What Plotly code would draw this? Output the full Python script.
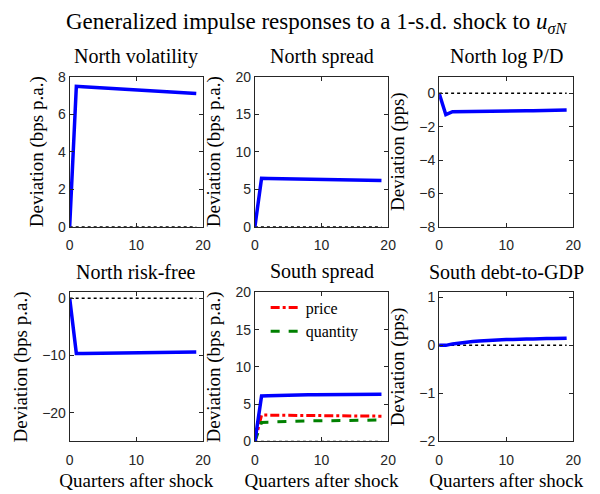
import plotly.graph_objects as go
from plotly.subplots import make_subplots

quarters = list(range(20))

north_vol = [0, 7.49, 7.47, 7.45, 7.43, 7.41, 7.39, 7.37, 7.35, 7.33,
             7.31, 7.29, 7.27, 7.25, 7.23, 7.21, 7.19, 7.16, 7.13, 7.10]
north_spread = [0, 6.45, 6.43, 6.42, 6.40, 6.39, 6.37, 6.36, 6.34, 6.32,
                6.31, 6.29, 6.28, 6.26, 6.24, 6.23, 6.21, 6.19, 6.17, 6.15]
north_pd = [0, -1.28, -1.10, -1.09, -1.09, -1.08, -1.08, -1.07, -1.07, -1.06,
            -1.06, -1.05, -1.05, -1.04, -1.04, -1.03, -1.03, -1.02, -1.01, -1.00]
north_rf = [0, -9.66, -9.64, -9.63, -9.61, -9.60, -9.58, -9.57, -9.55, -9.54,
            -9.52, -9.51, -9.49, -9.48, -9.46, -9.45, -9.43, -9.42, -9.41, -9.40]
south_spread = [0, 6.10, 6.15, 6.19, 6.22, 6.24, 6.26, 6.27, 6.28, 6.29,
                6.30, 6.31, 6.32, 6.32, 6.33, 6.33, 6.34, 6.34, 6.35, 6.35]
south_price = [0, 3.55, 3.54, 3.53, 3.52, 3.51, 3.50, 3.49, 3.48, 3.47,
               3.46, 3.46, 3.45, 3.44, 3.43, 3.43, 3.42, 3.41, 3.41, 3.40]
south_quantity = [0, 2.55, 2.60, 2.64, 2.67, 2.70, 2.72, 2.74, 2.76, 2.77,
                  2.79, 2.80, 2.82, 2.83, 2.84, 2.85, 2.86, 2.87, 2.88, 2.89]
south_debt = [0, 0.00, 0.03, 0.05, 0.07, 0.08, 0.09, 0.10, 0.11, 0.11,
              0.12, 0.12, 0.13, 0.13, 0.13, 0.14, 0.14, 0.14, 0.14, 0.15]
zero_line = [0] * 20

panel_titles = ["North volatility", "North spread", "North log P/D",
                "North risk-free", "South spread", "South debt-to-GDP"]
panel_series = [north_vol, north_spread, north_pd, north_rf, south_spread, south_debt]
y_labels = ["Deviation (bps p.a.)", "Deviation (bps p.a.)", "Deviation (pps)",
            "Deviation (bps p.a.)", "Deviation (bps p.a.)", "Deviation (pps)"]
y_ranges = [[0, 8], [0, 20], [-8, 1], [-25, 1], [0, 20], [-2, 1.1]]
y_ticks = [[0, 2, 4, 6, 8], [0, 5, 10, 15, 20], [-8, -6, -4, -2, 0],
           [-20, -10, 0], [0, 5, 10, 15, 20], [-2, -1, 0, 1]]
x_ticks = [0, 10, 20]

SERIF = "Liberation Serif"
SANS = "Liberation Sans"
AX = "#262626"

fig = make_subplots(rows=2, cols=3)

x_domains = [[0.1117, 0.3383], [0.4267, 0.6533], [0.7400, 0.9683]]
y_domains = [[0.5425, 0.8563], [0.0931, 0.4049]]

for i in range(6):
    r, c = i // 3 + 1, i % 3 + 1
    fig.add_trace(go.Scatter(x=quarters, y=zero_line, mode="lines",
                             line=dict(color="black", width=1.5, dash="dot"),
                             showlegend=False, hoverinfo="skip"), row=r, col=c)
    if i == 4:
        fig.add_trace(go.Scatter(x=quarters, y=south_price, mode="lines", name="price",
                                 line=dict(color="#ff0000", width=3, dash="dashdot")),
                      row=r, col=c)
        fig.add_trace(go.Scatter(x=quarters, y=south_quantity, mode="lines", name="quantity",
                                 line=dict(color="#008000", width=3, dash="dash")),
                      row=r, col=c)
    fig.add_trace(go.Scatter(x=quarters, y=panel_series[i], mode="lines",
                             line=dict(color="#0000ff", width=3.5),
                             showlegend=False), row=r, col=c)

for i in range(6):
    r, c = i // 3, i % 3
    suffix = "" if i == 0 else str(i + 1)
    xa = dict(domain=x_domains[c], range=[0, 20], tickvals=x_ticks,
              ticks="inside", ticklen=4, tickcolor=AX, showline=True, linecolor=AX,
              linewidth=1, mirror="ticks", showgrid=False, zeroline=False,
              ticklabelstandoff=6,
              tickfont=dict(family=SANS, size=14, color=AX))
    if r == 1:
        xa["title"] = dict(text="Quarters after shock", font=dict(family=SERIF, size=19, color="black"),
                           standoff=6)
    ya = dict(domain=y_domains[r], range=y_ranges[i], tickvals=y_ticks[i],
              ticks="inside", ticklen=4, tickcolor=AX, showline=True, linecolor=AX,
              linewidth=1, mirror="ticks", showgrid=False, zeroline=False,
              tickfont=dict(family=SANS, size=14, color=AX),
              title=dict(text=y_labels[i], font=dict(family=SERIF, size=19, color="black"),
                         standoff=9))
    fig.layout["xaxis" + suffix].update(xa)
    fig.layout["yaxis" + suffix].update(ya)
    fig.add_annotation(text=panel_titles[i], xref="paper", yref="paper",
                       x=sum(x_domains[c]) / 2, xanchor="center",
                       y=y_domains[r][1], yanchor="bottom",
                       yshift=7, showarrow=False,
                       font=dict(family=SERIF, size=20, color="black"))

fig.add_annotation(text="Generalized impulse responses to a 1-s.d. shock to <i>u</i><sub><i>σN</i></sub>",
                   xref="paper", yref="paper", x=0.532, xanchor="center",
                   y=1 - 16 / 494, yanchor="middle",
                   showarrow=False, font=dict(family=SERIF, size=23, color="black"))

fig.update_layout(
    width=600, height=494, margin=dict(l=0, r=0, t=0, b=0),
    plot_bgcolor="white", paper_bgcolor="white",
    legend=dict(x=0.445, y=1 - 292 / 494, xanchor="left", yanchor="top",
                bgcolor="rgba(0,0,0,0)", itemwidth=30, tracegroupgap=0,
                font=dict(family=SERIF, size=16, color="black")),
)

fig.write_html("out.html")
